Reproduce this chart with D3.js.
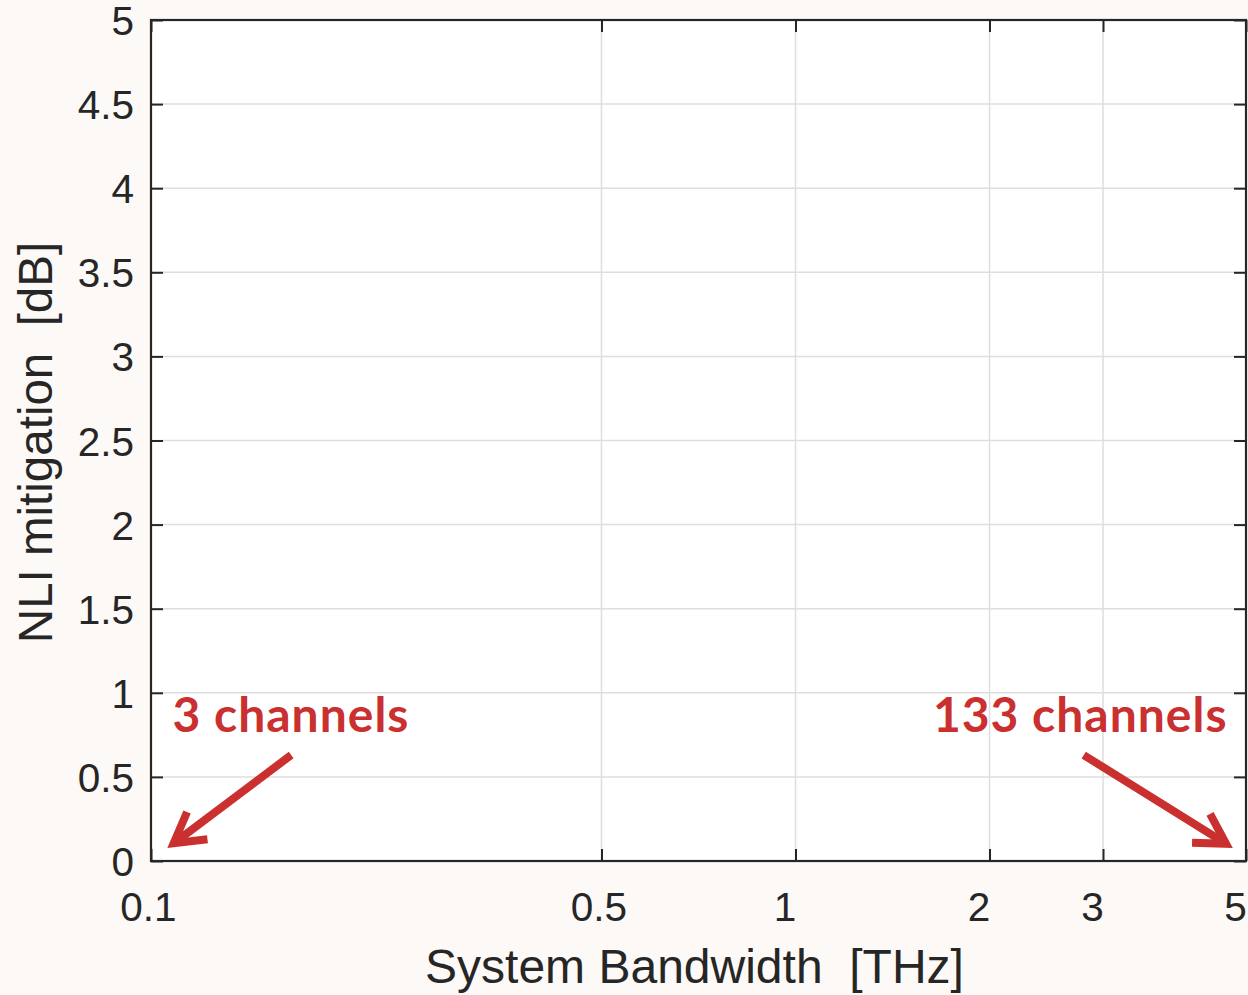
<!DOCTYPE html>
<html>
<head>
<meta charset="utf-8">
<script src="https://cdn.jsdelivr.net/npm/d3@7"></script>
<style>
  html, body { margin: 0; padding: 0; background: #fdf9f7; }
  svg { display: block; }
</style>
</head>
<body>
<div id="chart"></div>
<script>
// axis setup
const xTicks = [0.1, 0.5, 1, 2, 3, 5];
const yTicks = [0, 0.5, 1, 1.5, 2, 2.5, 3, 3.5, 4, 4.5, 5];
const xDomain = [0.1, 5];
const yDomain = [0, 5];

// red call-outs (data coordinates)
const noteLabels = ["3 channels", "133 channels"];
const noteTextX = [0.108, 4.68];
const noteTextY = [0.767, 0.767];
const noteFrom = [[0.165, 0.63], [2.80, 0.63]];
const noteTo = [[0.106, 0.077], [4.77, 0.077]];

const width = 1248, height = 995;
const margin = {top: 20, right: 2, bottom: 134, left: 151};
const iw = width - margin.left - margin.right;
const ih = height - margin.top - margin.bottom;

const x = d3.scaleLog().domain(xDomain).range([0, iw]);
const y = d3.scaleLinear().domain(yDomain).range([ih, 0]);

const svg = d3.select("#chart").append("svg")
    .attr("width", width)
    .attr("height", height);

const g = svg.append("g")
    .attr("transform", `translate(${margin.left},${margin.top})`);

g.append("rect")
    .attr("width", iw)
    .attr("height", ih)
    .attr("fill", "#fff");

// grid
g.append("g").selectAll("line")
  .data(xTicks)
  .join("line")
    .attr("x1", d => x(d)).attr("x2", d => x(d))
    .attr("y1", 0).attr("y2", ih)
    .attr("stroke", "#dedede")
    .attr("stroke-width", 1.5);

g.append("g").selectAll("line")
  .data(yTicks)
  .join("line")
    .attr("x1", 0).attr("x2", iw)
    .attr("y1", d => y(d)).attr("y2", d => y(d))
    .attr("stroke", "#dedede")
    .attr("stroke-width", 1.5);

const tickLen = 12;
const axisColor = "#262626";

function styleAxis(sel) {
  sel.select(".domain").remove();
  sel.selectAll(".tick line").attr("stroke", axisColor).attr("stroke-width", 2);
  sel.selectAll(".tick text")
    .attr("fill", axisColor)
    .attr("font-family", "'Liberation Sans', Arial, sans-serif")
    .attr("font-size", 40.5);
}

const fmt = d => String(d);

// bottom / top
g.append("g")
    .attr("transform", `translate(0,${ih})`)
    .call(d3.axisBottom(x).tickValues(xTicks).tickFormat(fmt).tickSizeInner(-tickLen).tickSizeOuter(0).tickPadding(31))
    .call(styleAxis)
    .call(a => a.selectAll(".tick text")
        .attr("dx", d => String(d).length === 1 ? -11 : -3));

g.append("g")
    .call(d3.axisTop(x).tickValues(xTicks).tickFormat("").tickSizeInner(-tickLen).tickSizeOuter(0))
    .call(styleAxis);

// left / right
g.append("g")
    .call(d3.axisLeft(y).tickValues(yTicks).tickFormat(fmt).tickSizeInner(-tickLen).tickSizeOuter(0).tickPadding(17))
    .call(styleAxis)
    .call(a => a.selectAll(".tick text").attr("dy", "0.36em"));

g.append("g")
    .attr("transform", `translate(${iw},0)`)
    .call(d3.axisRight(y).tickValues(yTicks).tickFormat("").tickSizeInner(-tickLen).tickSizeOuter(0))
    .call(styleAxis);

// box
g.append("rect")
    .attr("width", iw)
    .attr("height", ih)
    .attr("fill", "none")
    .attr("stroke", axisColor)
    .attr("stroke-width", 2.2);

// axis titles
svg.append("text")
    .attr("x", margin.left + iw / 2 - 4)
    .attr("y", 983)
    .attr("text-anchor", "middle")
    .attr("fill", axisColor)
    .attr("font-family", "'Liberation Sans', Arial, sans-serif")
    .attr("font-size", 48)
    .attr("xml:space", "preserve")
    .text("System Bandwidth  [THz]");

svg.append("text")
    .attr("transform", `translate(52,${margin.top + ih / 2 + 2}) rotate(-90)`)
    .attr("text-anchor", "middle")
    .attr("fill", axisColor)
    .attr("font-family", "'Liberation Sans', Arial, sans-serif")
    .attr("font-size", 47.5)
    .attr("xml:space", "preserve")
    .text("NLI mitigation  [dB]");

// call-outs
const red = "#c9302f";
const notes = g.append("g");

noteLabels.forEach((label, i) => {
  notes.append("text")
      .attr("x", x(noteTextX[i]))
      .attr("y", y(noteTextY[i]))
      .attr("text-anchor", i === 0 ? "start" : "end")
      .attr("fill", red)
      .attr("font-family", "Lato, 'Open Sans', sans-serif")
      .attr("font-weight", "bold")
      .attr("font-size", 48)
      .attr("letter-spacing", 1)
      .text(label);

  const x0 = x(noteFrom[i][0]), y0 = y(noteFrom[i][1]);
  const tx = x(noteTo[i][0]), ty = y(noteTo[i][1]);
  const ang = Math.atan2(ty - y0, tx - x0);
  // pull the chevron corner back so its outer mitre lands on the tip
  const x1 = tx - 8 * Math.cos(ang), y1 = ty - 8 * Math.sin(ang);
  const head = 34, spread = Math.PI / 6;
  const a1 = [x1 - head * Math.cos(ang - spread), y1 - head * Math.sin(ang - spread)];
  const a2 = [x1 - head * Math.cos(ang + spread), y1 - head * Math.sin(ang + spread)];

  notes.append("line")
      .attr("x1", x0).attr("y1", y0)
      .attr("x2", x1 - 3 * Math.cos(ang)).attr("y2", y1 - 3 * Math.sin(ang))
      .attr("stroke", red)
      .attr("stroke-width", 8);

  notes.append("path")
      .attr("d", `M${a1[0]},${a1[1]}L${x1},${y1}L${a2[0]},${a2[1]}`)
      .attr("fill", "none")
      .attr("stroke", red)
      .attr("stroke-width", 8)
      .attr("stroke-linejoin", "miter")
      .attr("stroke-miterlimit", 3);
});
</script>
</body>
</html>
